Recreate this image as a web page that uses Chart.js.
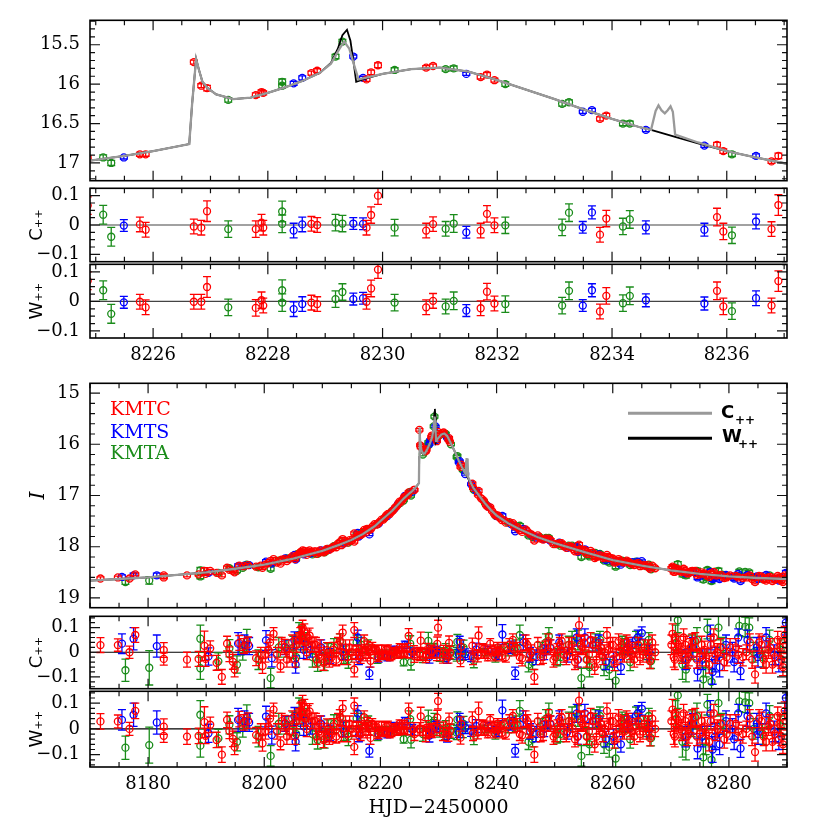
<!DOCTYPE html>
<html><head><meta charset="utf-8">
<script src="https://cdn.jsdelivr.net/npm/chart.js@4.4.0/dist/chart.umd.min.js"></script>
<style>
html,body{margin:0;padding:0;background:#fff;width:830px;height:830px;overflow:hidden;position:relative}
.p{position:absolute;left:0}
</style></head><body>
<script>
// ---------------- DATA ----------------
// model curves (HJD-2450000, I mag)
const modelDays = [8170,8175,8180,8185,8190,8195,8200,8205,8210,8213,8215,8217,8219,8220,8221,8222,8223,8224,8224.9,8225.5,8226.0,8226.63,8226.68,8226.75,8226.8,8226.86,8226.95,8227.1,8227.4,8227.7,8228.0,8228.3,8228.6,8228.9,8229.1,8229.25,8229.33,8229.42,8229.5,8229.58,8229.7,8230.0,8230.5,8231.0,8231.5,8232.0,8232.5,8233.0,8233.5,8234.0,8234.5,8234.68,8234.76,8234.81,8234.86,8234.92,8234.97,8235.02,8235.06,8235.1,8235.5,8236.0,8236.5,8237.05,8238,8239,8240,8242,8244,8247,8250,8255,8260,8265,8270,8275,8280,8285,8290];
const modelC    = [18.66,18.63,18.60,18.55,18.50,18.43,18.35,18.23,18.08,17.96,17.87,17.75,17.60,17.50,17.40,17.30,17.18,17.06,16.97,16.91,16.85,16.76,16.25,15.68,15.82,15.97,16.05,16.13,16.19,16.17,16.11,16.04,15.96,15.86,15.74,15.55,15.46,15.55,15.75,15.94,15.92,15.87,15.81,15.79,15.84,15.95,16.07,16.19,16.32,16.44,16.55,16.58,16.34,16.27,16.33,16.37,16.33,16.28,16.35,16.64,16.74,16.85,16.93,17.01,17.15,17.28,17.39,17.54,17.66,17.81,17.93,18.10,18.26,18.37,18.46,18.53,18.58,18.61,18.63];
const wDays = [8170,8175,8180,8185,8190,8195,8200,8205,8210,8213,8215,8217,8219,8220,8221,8222,8223,8224,8224.9,8225.5,8226.0,8226.63,8226.68,8226.75,8226.8,8226.86,8226.95,8227.1,8227.4,8227.7,8228.0,8228.3,8228.6,8228.9,8229.1,8229.22,8229.3,8229.38,8229.44,8229.5,8229.54,8229.7,8230.0,8230.5,8231.0,8231.5,8232.0,8232.5,8233.0,8233.5,8234.0,8234.5,8234.68,8235.1,8235.5,8236.0,8236.5,8237.05,8238,8239,8240,8242,8244,8247,8250,8255,8260,8265,8270,8275,8280,8285,8290];
const wMags = [18.66,18.63,18.60,18.55,18.50,18.43,18.35,18.23,18.08,17.96,17.87,17.75,17.60,17.50,17.40,17.30,17.18,17.06,16.97,16.91,16.85,16.76,16.25,15.68,15.82,15.97,16.05,16.13,16.19,16.17,16.11,16.04,15.96,15.86,15.73,15.55,15.38,15.31,15.45,15.75,15.97,15.93,15.87,15.81,15.79,15.84,15.95,16.07,16.19,16.32,16.44,16.55,16.58,16.67,16.75,16.85,16.93,17.01,17.15,17.28,17.39,17.54,17.66,17.81,17.93,18.10,18.26,18.37,18.46,18.53,18.58,18.61,18.63];

// zoomed window points: [day, I, residual C++, residual W++, error]
const kmtcTop = [[8224.86,16.94,0.066,0.070,0.03],[8225.77,16.89,0.002,-0.001,0.025],[8225.87,16.89,-0.016,-0.020,0.025],[8226.71,15.72,-0.005,-0.001,0.025],[8226.84,16.02,-0.009,-0.001,0.025],[8226.94,16.05,0.047,0.049,0.035],[8227.79,16.14,-0.014,-0.022,0.028],[8227.89,16.10,0.008,0.004,0.028],[8227.92,16.11,-0.009,-0.014,0.025],[8228.76,15.86,0.004,-0.004,0.025],[8228.86,15.83,0.000,-0.009,0.025],[8229.72,15.94,-0.009,-0.001,0.025],[8229.80,15.85,0.034,0.044,0.028],[8229.92,15.76,0.100,0.108,0.03],[8230.76,15.79,-0.019,-0.020,0.025],[8230.88,15.77,0.003,0.002,0.025],[8231.71,15.91,-0.019,-0.023,0.025],[8231.82,15.88,0.038,0.033,0.028],[8231.95,15.95,-0.001,-0.007,0.025],[8233.79,16.44,-0.033,-0.034,0.025],[8233.90,16.40,0.022,0.019,0.028],[8235.83,16.77,0.027,0.036,0.03],[8235.94,16.85,-0.022,-0.017,0.028],[8236.78,16.98,-0.014,-0.014,0.025],[8236.90,16.91,0.068,0.069,0.035]];
const kmtsTop = [[8225.49,16.93,-0.002,-0.003,0.02],[8228.45,15.99,-0.019,-0.026,0.025],[8228.60,15.92,0.002,-0.009,0.025],[8229.49,15.65,0.005,0.008,0.02],[8229.66,15.92,0.004,0.011,0.02],[8231.46,15.87,-0.025,-0.031,0.02],[8233.49,16.35,-0.008,-0.014,0.02],[8233.65,16.33,0.043,0.038,0.022],[8234.59,16.58,-0.008,0.004,0.022],[8235.61,16.78,-0.016,-0.007,0.022],[8236.51,16.91,0.012,0.011,0.025]];
const kmtaTop = [[8225.13,16.93,0.035,0.038,0.032],[8225.27,17.00,-0.040,-0.042,0.032],[8227.31,16.20,-0.014,-0.020,0.028],[8228.25,15.97,0.046,0.038,0.035],[8228.25,16.02,0.004,-0.004,0.03],[8229.18,15.65,0.008,0.008,0.028],[8229.30,15.46,0.005,0.032,0.028],[8230.21,15.82,-0.009,-0.004,0.028],[8231.10,15.81,-0.013,-0.017,0.025],[8231.24,15.80,0.005,0.002,0.03],[8232.14,16.00,-0.001,-0.009,0.028],[8233.13,16.25,-0.008,-0.014,0.028],[8233.25,16.23,0.042,0.036,0.03],[8234.19,16.50,-0.005,-0.006,0.028],[8234.31,16.50,0.019,0.019,0.03],[8236.09,16.89,-0.035,-0.033,0.028]];

// remaining season points: [day, I, residual, error]
const kmtcRest = [[8171.8,18.62,0.029,0.03],[8174.8,18.60,0.029,0.025],[8176.8,18.62,0.0,0.025],[8177.8,18.54,0.07,0.03],[8182.7,18.56,0.009,0.03],[8182.7,18.60,-0.027,0.025],[8186.7,18.56,-0.03,0.03],[8188.7,18.54,-0.027,0.03],[8189.7,18.47,0.026,0.06],[8189.9,18.53,-0.027,0.03],[8190.7,18.47,0.016,0.03],[8191.8,18.51,-0.043,0.03],[8192.7,18.56,-0.1,0.03],[8193.6,18.41,0.035,0.03],[8194.0,18.45,-0.008,0.03],[8194.6,18.47,-0.039,0.03],[8194.9,18.50,-0.07,0.03],[8195.7,18.37,0.038,0.03],[8196.5,18.38,0.025,0.03],[8197.2,18.36,0.032,0.03],[8198.6,18.39,-0.024,0.03],[8199.4,18.37,-0.01,0.03],[8199.7,18.41,-0.056,0.03],[8200.2,18.35,-0.01,0.03],[8200.7,18.32,0.01,0.03],[8201.0,18.28,0.04,0.03],[8201.6,18.24,0.075,0.025],[8202.2,18.31,-0.01,0.03],[8202.8,18.33,-0.056,0.025],[8203.0,18.25,0.03,0.03],[8203.5,18.24,0.022,0.03],[8203.9,18.28,-0.03,0.03],[8204.3,18.24,-0.01,0.03],[8204.8,18.19,0.04,0.03],[8205.3,18.24,-0.03,0.03],[8205.6,18.17,0.03,0.03],[8206.0,18.15,0.05,0.03],[8206.2,18.11,0.07,0.03],[8206.4,18.11,0.07,0.035],[8206.6,18.07,0.1,0.03],[8206.9,18.08,0.085,0.03],[8207.0,18.12,0.04,0.03],[8207.3,18.16,0.0,0.03],[8207.5,18.09,0.06,0.03],[8207.8,18.07,0.068,0.03],[8208.2,18.10,0.03,0.03],[8208.6,18.09,0.032,0.03],[8208.9,18.09,0.03,0.03],[8209.0,18.14,-0.03,0.03],[8209.4,18.12,-0.01,0.03],[8209.6,18.07,0.02,0.03],[8210.2,18.11,-0.043,0.03],[8210.5,18.09,-0.02,0.03],[8210.8,18.04,0.009,0.03],[8211.2,18.06,-0.03,0.03],[8211.6,18.03,-0.02,0.03],[8211.9,18.00,0.01,0.03],[8212.4,18.01,-0.03,0.025],[8212.7,17.94,0.03,0.03],[8213.0,17.91,0.045,0.03],[8213.3,17.97,-0.02,0.03],[8213.5,17.85,0.08,0.03],[8214.0,17.90,0.02,0.03],[8214.3,17.92,-0.02,0.03],[8214.7,17.87,0.02,0.03],[8215.1,17.87,0.0,0.03],[8215.5,17.74,0.09,0.03],[8215.5,17.90,-0.07,0.03],[8215.9,17.81,0.0,0.025],[8216.2,17.78,0.0,0.03],[8216.6,17.77,-0.02,0.025],[8216.9,17.75,0.0,0.025],[8217.2,17.67,0.045,0.025],[8217.5,17.72,-0.01,0.025],[8217.7,17.65,0.02,0.025],[8218.0,17.67,0.0,0.025],[8218.3,17.66,-0.035,0.025],[8218.6,17.61,0.02,0.02],[8219.0,17.56,0.01,0.02],[8219.3,17.57,0.01,0.018],[8219.6,17.55,-0.02,0.018],[8219.8,17.52,-0.01,0.02],[8220.2,17.47,0.015,0.015],[8220.5,17.47,-0.015,0.015],[8220.8,17.43,-0.01,0.015],[8221.0,17.39,0.01,0.015],[8221.3,17.36,0.015,0.015],[8221.6,17.36,-0.02,0.015],[8221.9,17.32,-0.015,0.015],[8222.2,17.29,0.005,0.015],[8222.5,17.24,0.0,0.015],[8222.8,17.21,-0.01,0.015],[8223.1,17.16,0.01,0.012],[8223.3,17.12,0.02,0.015],[8223.6,17.12,-0.01,0.012],[8223.9,17.07,-0.005,0.012],[8224.1,17.03,0.02,0.012],[8224.4,17.01,0.012,0.012],[8224.7,16.99,-0.01,0.012],
[8237.3,17.05,-0.01,0.015],[8237.5,17.07,0.02,0.015],[8237.8,17.10,0.015,0.015],[8238.2,17.19,-0.01,0.015],[8238.5,17.22,-0.02,0.015],[8238.9,17.23,0.035,0.02],[8239.2,17.30,0.01,0.02],[8239.6,17.36,-0.015,0.02],[8239.9,17.39,0.005,0.02],[8240.2,17.39,0.02,0.02],[8240.5,17.43,0.005,0.02],[8240.9,17.48,-0.015,0.02],[8241.3,17.48,0.02,0.02],[8241.6,17.53,-0.02,0.02],[8242.2,17.52,0.03,0.025],[8242.8,17.54,0.05,0.025],[8243.0,17.60,0.01,0.025],[8243.6,17.62,0.015,0.025],[8244.0,17.68,-0.02,0.025],[8244.4,17.71,-0.025,0.03],[8245.0,17.66,0.04,0.03],[8245.3,17.70,0.03,0.025],[8245.7,17.75,-0.01,0.025],[8246.0,17.76,0.0,0.03],[8246.5,17.88,-0.1,0.03],[8247.1,17.78,0.03,0.03],[8247.6,17.84,-0.02,0.03],[8248.0,17.86,-0.02,0.025],[8248.4,17.84,0.02,0.025],[8248.9,17.84,0.045,0.03],[8249.3,17.87,0.02,0.03],[8249.8,17.95,-0.03,0.03],[8250.1,17.95,-0.02,0.03],[8250.5,17.94,0.01,0.025],[8250.9,17.93,0.03,0.03],[8251.2,17.93,0.045,0.03],[8251.6,17.99,-0.01,0.03],[8252.0,18.02,-0.02,0.03],[8252.5,17.99,0.03,0.03],[8252.9,18.00,0.03,0.03],[8253.1,18.04,0.0,0.03],[8253.5,18.09,-0.04,0.03],[8253.9,18.09,-0.03,0.03],[8254.2,17.96,0.11,0.04],[8254.5,18.05,0.03,0.035],[8254.8,18.07,0.02,0.03],[8255.1,18.06,0.04,0.03],[8255.5,18.14,-0.03,0.03],[8255.9,18.14,-0.01,0.03],[8256.2,18.08,0.05,0.03],[8256.6,18.12,0.03,0.03],[8256.9,18.22,-0.06,0.03],[8257.2,18.20,-0.03,0.03],[8257.6,18.17,0.01,0.03],[8257.9,18.17,0.02,0.03],[8258.3,18.22,-0.02,0.03],[8258.6,18.21,0.0,0.03],[8259.0,18.16,0.07,0.03],[8259.3,18.22,0.01,0.03],[8259.6,18.22,0.03,0.03],[8260.0,18.23,0.03,0.03],[8260.3,18.31,-0.045,0.03],[8260.6,18.30,-0.02,0.03],[8261.0,18.24,0.045,0.03],[8261.3,18.27,0.02,0.03],[8261.7,18.30,-0.01,0.03],[8262.0,18.31,-0.01,0.03],[8262.4,18.27,0.04,0.03],[8262.7,18.29,0.03,0.03],[8263.0,18.32,0.0,0.03],[8263.3,18.34,-0.01,0.03],[8263.7,18.36,-0.03,0.03],[8264.0,18.33,0.01,0.03],[8264.4,18.32,0.03,0.03],[8264.7,18.38,-0.02,0.03],[8265.2,18.37,-0.01,0.03],[8265.5,18.36,0.02,0.03],[8266.0,18.36,0.02,0.03],[8266.2,18.40,-0.01,0.03],[8266.4,18.43,-0.036,0.03],[8266.8,18.37,0.04,0.03],[8267.3,18.42,0.0,0.03],
[8270.1,18.43,0.03,0.04],[8270.3,18.39,0.075,0.04],[8270.5,18.49,-0.02,0.04],[8270.7,18.49,-0.03,0.04],[8271.0,18.43,0.04,0.035],[8271.3,18.44,0.03,0.035],[8271.6,18.48,0.0,0.035],[8271.9,18.49,-0.01,0.035],[8272.2,18.43,0.06,0.035],[8272.5,18.47,0.03,0.035],[8272.8,18.52,-0.03,0.035],[8273.1,18.52,-0.02,0.035],[8273.4,18.48,0.02,0.035],[8273.7,18.47,0.04,0.035],[8274.2,18.47,0.045,0.035],[8274.5,18.55,-0.03,0.035],[8275.0,18.54,-0.02,0.035],[8275.3,18.50,0.03,0.035],[8275.8,18.52,0.01,0.035],[8276.1,18.56,-0.02,0.035],[8276.6,18.59,-0.05,0.035],[8276.9,18.52,0.03,0.035],[8277.4,18.49,0.06,0.035],[8277.7,18.56,-0.01,0.035],[8278.0,18.56,0.0,0.035],[8278.6,18.55,0.02,0.035],[8279.2,18.61,-0.04,0.035],[8279.6,18.60,-0.02,0.035],[8280.2,18.56,0.02,0.035],[8281.2,18.57,0.02,0.035],[8281.6,18.60,-0.01,0.035],[8282.4,18.61,-0.02,0.035],[8283.0,18.60,0.0,0.03],[8283.6,18.56,0.04,0.035],[8284.0,18.63,-0.03,0.035],[8284.5,18.69,-0.09,0.035],[8285.2,18.57,0.04,0.035],[8285.6,18.58,0.03,0.035],[8286.0,18.64,-0.03,0.035],[8286.4,18.66,-0.05,0.035],[8286.8,18.60,0.01,0.035],[8287.1,18.59,0.02,0.035],[8287.5,18.67,-0.05,0.035],[8287.9,18.64,-0.02,0.035],[8288.4,18.57,0.05,0.035],[8288.7,18.60,0.02,0.035],[8289.0,18.66,-0.03,0.035],[8289.3,18.69,-0.06,0.035],[8289.6,18.56,0.07,0.035],[8289.9,18.60,0.03,0.035]];
const kmtsRest = [[8175.5,18.59,0.035,0.04],[8177.5,18.56,0.055,0.045],[8181.5,18.56,0.025,0.045],[8190.4,18.51,-0.017,0.035],[8195.5,18.38,0.035,0.045],[8196.6,18.37,0.03,0.04],[8197.4,18.36,0.025,0.035],[8200.3,18.29,0.048,0.04],[8201.3,18.33,-0.024,0.035],[8203.6,18.23,0.02,0.03],[8205.2,18.16,0.048,0.035],[8205.4,18.25,-0.05,0.035],[8206.8,18.15,0.01,0.035],[8208.0,18.13,0.01,0.03],[8209.8,18.07,0.02,0.03],[8211.3,18.04,-0.015,0.03],[8213.6,17.94,0.0,0.03],[8216.1,17.73,0.06,0.03],[8216.3,17.80,-0.025,0.025],[8218.1,17.76,-0.085,0.025],[8219.7,17.55,-0.02,0.02],[8221.2,17.40,-0.02,0.015],[8222.4,17.26,0.01,0.015],[8223.0,17.17,0.01,0.012],[8224.2,17.01,0.03,0.015],[8238.5,17.21,0.01,0.015],[8240.0,17.40,-0.01,0.02],[8241.0,17.40,0.072,0.04],[8242.5,17.56,0.02,0.025],[8243.2,17.70,-0.085,0.025],[8244.6,17.65,0.04,0.03],[8245.8,17.76,-0.01,0.03],[8246.8,17.82,-0.02,0.03],[8248.2,17.85,0.0,0.03],[8249.2,17.88,0.02,0.03],[8250.8,17.92,0.04,0.03],[8252.2,18.02,-0.01,0.03],[8253.8,18.00,0.06,0.035],[8254.0,18.10,-0.03,0.03],[8255.2,18.05,0.06,0.035],[8256.5,18.12,0.03,0.03],[8257.6,18.15,0.04,0.03],[8258.8,18.26,-0.04,0.03],[8260.1,18.29,-0.03,0.03],[8261.4,18.35,-0.06,0.03],[8262.6,18.30,0.02,0.03],[8263.4,18.30,0.03,0.03],[8264.3,18.29,0.06,0.03],[8265.0,18.28,0.078,0.025],[8266.3,18.40,0.0,0.03],[8272.5,18.52,-0.03,0.04],[8273.8,18.49,0.02,0.04],[8274.6,18.60,-0.076,0.04],[8275.4,18.56,-0.03,0.04],[8276.8,18.49,0.06,0.05],[8277.2,18.63,-0.08,0.05],[8277.6,18.59,-0.03,0.05],[8278.4,18.63,-0.06,0.04],[8279.5,18.55,0.03,0.04],[8280.6,18.58,0.0,0.04],[8280.9,18.62,-0.04,0.04],[8281.6,18.53,0.06,0.035],[8282.0,18.67,-0.076,0.035],[8283.2,18.55,0.05,0.04],[8284.8,18.58,0.02,0.04],[8285.0,18.63,-0.02,0.04],[8286.4,18.55,0.06,0.04],[8287.8,18.63,-0.01,0.04],[8288.6,18.66,-0.04,0.04],[8289.8,18.51,0.12,0.05]];
const kmtaRest = [[8176.1,18.69,-0.073,0.045],[8180.2,18.66,-0.063,0.07],[8189.0,18.46,0.055,0.055],[8189.0,18.58,-0.065,0.045],[8192.1,18.51,-0.037,0.035],[8194.0,18.42,0.016,0.035],[8195.3,18.47,-0.05,0.035],[8196.3,18.41,0.003,0.035],[8197.0,18.35,0.048,0.045],[8199.0,18.40,-0.03,0.04],[8201.1,18.43,-0.105,0.04],[8202.5,18.27,0.02,0.04],[8203.9,18.23,0.015,0.035],[8205.0,18.21,0.02,0.045],[8205.5,18.22,-0.02,0.04],[8206.0,18.13,0.07,0.05],[8206.5,18.11,0.06,0.05],[8207.2,18.12,0.04,0.04],[8208.3,18.15,-0.02,0.04],[8209.2,18.14,-0.043,0.035],[8210.4,18.11,-0.04,0.035],[8211.0,18.04,0.0,0.035],[8212.0,17.99,0.02,0.035],[8213.1,17.91,0.045,0.03],[8213.7,17.93,-0.01,0.035],[8214.5,17.92,-0.03,0.035],[8215.9,17.76,0.04,0.03],[8216.7,17.73,0.03,0.03],[8217.9,17.67,0.02,0.03],[8219.5,17.56,-0.02,0.025],[8220.7,17.44,-0.01,0.02],[8222.0,17.30,-0.005,0.015],[8223.4,17.15,-0.01,0.015],[8224.0,17.10,-0.04,0.015],[8238.0,17.15,0.0,0.015],[8239.8,17.39,-0.02,0.02],[8240.6,17.43,0.01,0.02],[8242.0,17.53,0.01,0.025],[8243.3,17.60,0.02,0.03],[8244.0,17.59,0.07,0.04],[8245.5,17.78,-0.05,0.03],[8246.2,17.81,-0.04,0.03],[8247.5,17.82,0.01,0.03],[8248.5,17.83,0.04,0.035],[8249.0,17.83,0.065,0.035],[8250.4,17.95,-0.02,0.035],[8251.0,17.98,-0.02,0.03],[8252.4,17.98,0.03,0.035],[8253.0,17.98,0.05,0.035],[8254.0,18.02,0.05,0.04],[8254.6,18.20,-0.105,0.04],[8255.6,18.15,-0.03,0.035],[8256.0,18.19,-0.06,0.04],[8257.0,18.12,0.04,0.035],[8257.8,18.14,0.05,0.035],[8258.5,18.27,-0.06,0.035],[8259.4,18.31,-0.07,0.04],[8260.5,18.39,-0.115,0.04],[8261.6,18.27,0.03,0.035],[8262.0,18.28,0.02,0.035],[8263.0,18.36,-0.04,0.035],[8264.0,18.29,0.05,0.035],[8264.7,18.32,0.04,0.035],[8265.8,18.38,0.0,0.03],[8266.2,18.35,0.05,0.03],[8266.6,18.44,-0.036,0.03],[8270.8,18.41,0.06,0.05],[8271.2,18.34,0.13,0.05],[8272.0,18.53,-0.05,0.06],[8272.6,18.56,-0.07,0.05],[8273.6,18.48,0.02,0.05],[8274.5,18.47,0.05,0.05],[8275.6,18.64,-0.11,0.05],[8276.0,18.59,-0.05,0.05],[8276.3,18.45,0.094,0.04],[8277.0,18.67,-0.12,0.05],[8278.2,18.47,0.1,0.05],[8279.0,18.55,0.02,0.04],[8281.8,18.48,0.107,0.04],[8282.8,18.49,0.103,0.04],[8283.5,18.50,0.1,0.04],[8284.3,18.60,0.0,0.04],[8285.8,18.63,-0.02,0.04],[8287.0,18.56,0.05,0.04],[8288.9,18.61,0.01,0.04]];

const topTicksX = [2, 0.5];        // major, minor
const botTicksX = [20, 5];
const legendNames = ['KMTC','KMTS','KMTA'];
const modelNames = ['C','W'];

// ---------------- STYLE ----------------
const RED='#ff0000', BLUE='#0000ff', GREEN='#1a8c1a', GRAY='#999999', BLACK='#000000';
const TICKFONT = {family:'DejaVu Serif', size:18};
const PAD = 4;

function tickValues(min,max,step){
  const lo=Math.min(min,max), hi=Math.max(min,max), out=[];
  for(let k=Math.ceil(lo/step-1e-9); k<=Math.floor(hi/step+1e-9); k++) out.push(Math.round(k*step*1e6)/1e6);
  return out;
}

const framePlugin = {
  id:'frame',
  beforeDatasetsDraw(chart, args, o){
    if(!o.zero) return;
    const {ctx, chartArea:a, scales:{y}} = chart;
    const py = y.getPixelForValue(0);
    ctx.save(); ctx.strokeStyle=o.zeroColor||'#000'; ctx.lineWidth=1.2;
    ctx.beginPath(); ctx.moveTo(a.left,py); ctx.lineTo(a.right,py); ctx.stroke(); ctx.restore();
  },
  afterDatasetsDraw(chart, args, o){
    const {ctx, chartArea:a, scales:{x,y}} = chart;
    const isMaj=(v,m)=>Math.abs(v/m-Math.round(v/m))<1e-6;
    ctx.save(); ctx.strokeStyle='#111'; ctx.lineWidth=1.2; ctx.beginPath();
    tickValues(x.min,x.max,o.xMinor).forEach(v=>{const L=isMaj(v,o.xMajor)?10:5; const px=x.getPixelForValue(v);
      ctx.moveTo(px,a.bottom); ctx.lineTo(px,a.bottom-L); ctx.moveTo(px,a.top); ctx.lineTo(px,a.top+L);});
    tickValues(y.min,y.max,o.yMinor).forEach(v=>{const L=isMaj(v,o.yMajor)?10:5; const py=y.getPixelForValue(v);
      ctx.moveTo(a.left,py); ctx.lineTo(a.left+L,py); ctx.moveTo(a.right,py); ctx.lineTo(a.right-L,py);});
    ctx.stroke();
    ctx.lineWidth=1.6; ctx.strokeStyle='#000'; ctx.strokeRect(a.left,a.top,a.right-a.left,a.bottom-a.top);
    ctx.restore();
  }
};
const errPlugin = {
  id:'errbars',
  beforeDatasetDraw(chart, args){
    const ds = chart.data.datasets[args.index];
    if(!ds.errs) return;
    const {ctx, chartArea:a, scales:{x,y}} = chart;
    ctx.save(); ctx.beginPath(); ctx.rect(a.left,a.top,a.right-a.left,a.bottom-a.top); ctx.clip();
    ctx.strokeStyle=ds.borderColor; ctx.lineWidth=1.3; ctx.beginPath();
    ds.data.forEach((p,i)=>{const e=ds.errs[i]; const px=x.getPixelForValue(p.x);
      const y1=y.getPixelForValue(p.y-e), y2=y.getPixelForValue(p.y+e);
      ctx.moveTo(px,y1); ctx.lineTo(px,y2); ctx.moveTo(px-4,y1); ctx.lineTo(px+4,y1); ctx.moveTo(px-4,y2); ctx.lineTo(px+4,y2);});
    ctx.stroke(); ctx.restore();
  }
};

function ptsDS(list,key,color){
  return {data:list.map(p=>({x:p.d,y:p[key]})), errs:list.map(p=>p.e), borderColor:color, pointBorderColor:color,
    backgroundColor:'rgba(0,0,0,0)', pointBackgroundColor:'rgba(0,0,0,0)', pointRadius:3.5, pointBorderWidth:1.3, showLine:false, clip:0};
}
function lineDS(days,mags,color,w){
  return {data:days.map((d,i)=>({x:d,y:mags[i]})), showLine:true, borderColor:color, borderWidth:w, pointRadius:0, fill:false, tension:0, clip:0};
}
const fromTop = arr => arr.map(r=>({d:r[0],m:r[1],c:r[2],w:r[3],e:r[4]}));
const fromRest = arr => arr.map(r=>({d:r[0],m:r[1],c:r[2],w:r[2],e:r[3]}));
const fmtRes = v => Math.abs(v)<1e-9 ? '0' : (v<0?'\u2212':'')+Math.abs(v).toFixed(1);

function panel(o){
  const xh=o.xAxisH||0, H=o.areaH+2*PAD+xh;
  const div=document.createElement('div'); div.className='p';
  div.style.top=(o.areaTop-PAD)+'px'; div.style.width='830px'; div.style.height=H+'px';
  const cv=document.createElement('canvas'); cv.width=830; cv.height=H; cv.style.width='830px'; cv.style.height=H+'px';
  div.appendChild(cv); document.body.appendChild(div);
  new Chart(cv.getContext('2d'),{
    type:'scatter',
    data:{datasets:o.datasets},
    options:{
      responsive:false, animation:false, devicePixelRatio:1, events:[],
      layout:{padding:{top:PAD,bottom:PAD,left:0,right:43}},
      plugins:{legend:{display:false}, tooltip:{enabled:false},
        frame:{xMajor:o.xt[0], xMinor:o.xt[1], yMajor:o.yt[0], yMinor:o.yt[1], zero:!!o.zero, zeroColor:o.zeroColor}},
      scales:{
        x:{type:'linear', min:o.xmin, max:o.xmax, display:!!xh, position:'bottom',
           grid:{display:false, drawTicks:false}, border:{display:false},
           afterBuildTicks:s=>{s.ticks=tickValues(o.xmin,o.xmax,o.xt[0]).map(v=>({value:v}));},
           ticks:{autoSkip:false, maxRotation:0, minRotation:0, font:TICKFONT, color:'#000', padding:7, callback:v=>String(Math.round(v))},
           title:{display:!!o.xTitle, text:o.xTitle||'', font:{family:'DejaVu Serif', size:19}, color:'#000', padding:{top:0,bottom:3}},
           afterFit:s=>{s.height=xh; s.paddingLeft=0; s.paddingRight=0;}},
        y:{type:'linear', min:o.ymin, max:o.ymax, reverse:!!o.reverse,
           grid:{display:false, drawTicks:false}, border:{display:false},
           afterBuildTicks:s=>{s.ticks=tickValues(o.ymin,o.ymax,o.yt[0]).map(v=>({value:v}));},
           ticks:{autoSkip:false, font:TICKFONT, color:'#000', padding:10, callback:o.yfmt},
           title:{display:!!o.yTitle, text:o.yTitle||'', font:o.yTitleFont||{family:'DejaVu Sans', size:18}, color:'#000', padding:{top:27,bottom:0}},
           afterFit:s=>{s.width=90; s.paddingTop=0; s.paddingBottom=0;}}
      }
    },
    plugins:[framePlugin, errPlugin].concat(o.extra||[])
  });
}

// ---------------- BUILD ----------------
const cTop=fromTop(kmtcTop), sTop=fromTop(kmtsTop), aTop=fromTop(kmtaTop);
const cAll=cTop.concat(fromRest(kmtcRest)), sAll=sTop.concat(fromRest(kmtsRest)), aAll=aTop.concat(fromRest(kmtaRest));
const magFmt = v => String(Math.round(v*10)/10);

// upper block (zoom on anomaly)
panel({areaTop:19, areaH:163, xmin:8224.9, xmax:8237.05, ymin:15.19, ymax:17.225, reverse:true,
  xt:topTicksX, yt:[0.5,0.1], yfmt:magFmt,
  datasets:[lineDS(modelDays,modelC,GRAY,2.3), lineDS(wDays,wMags,BLACK,1.8), ptsDS(cTop,'m',RED), ptsDS(sTop,'m',BLUE), ptsDS(aTop,'m',GREEN)]});
panel({areaTop:187, areaH:76, xmin:8224.9, xmax:8237.05, ymin:-0.125, ymax:0.125,
  xt:topTicksX, yt:[0.1,0.025], yfmt:fmtRes, zero:true, zeroColor:'#444', yTitle:'C\u208A\u208A',
  datasets:[ptsDS(cTop,'c',RED), ptsDS(sTop,'c',BLUE), ptsDS(aTop,'c',GREEN)]});
panel({areaTop:263, areaH:75, xAxisH:32, xmin:8224.9, xmax:8237.05, ymin:-0.124, ymax:0.126,
  xt:topTicksX, yt:[0.1,0.025], yfmt:fmtRes, zero:true, zeroColor:'#444', yTitle:'W\u208A\u208A',
  datasets:[ptsDS(cTop,'w',RED), ptsDS(sTop,'w',BLUE), ptsDS(aTop,'w',GREEN)]});

// lower block (whole season)
const legendPlugin = {
  id:'kmtLegend',
  afterDraw(chart){
    const ctx=chart.ctx, a=chart.chartArea, oy=a.top-382; // page -> canvas
    ctx.save();
    ctx.textBaseline='middle'; ctx.textAlign='left';
    ctx.font='19px "DejaVu Serif"';
    [[legendNames[0],RED,409],[legendNames[1],BLUE,431.5],[legendNames[2],GREEN,452.5]].forEach(([t,c,y])=>{ctx.fillStyle=c; ctx.fillText(t,110,y+oy);});
    ctx.lineWidth=3;
    ctx.strokeStyle=GRAY; ctx.beginPath(); ctx.moveTo(628,412+oy); ctx.lineTo(712,412+oy); ctx.stroke();
    ctx.strokeStyle=BLACK; ctx.beginPath(); ctx.moveTo(628,437+oy); ctx.lineTo(712,437+oy); ctx.stroke();
    ctx.fillStyle='#000'; ctx.textBaseline='alphabetic';
    ctx.font='bold 18px "DejaVu Sans"'; ctx.fillText(modelNames[0],721,417+oy); ctx.fillText(modelNames[1],722,441+oy);
    ctx.font='bold 12px "DejaVu Sans"'; ctx.fillText('++',735,423+oy); ctx.fillText('++',738,447+oy);
    ctx.restore();
  }
};
panel({areaTop:382, areaH:227, xmin:8170, xmax:8290, ymin:14.81, ymax:19.19, reverse:true,
  xt:botTicksX, yt:[1,0.2], yfmt:magFmt, yTitle:'I', yTitleFont:{family:'DejaVu Serif', size:20, style:'italic'},
  datasets:[lineDS(modelDays,modelC,GRAY,2.3), lineDS(wDays,wMags,BLACK,1.8), ptsDS(cAll,'m',RED), ptsDS(sAll,'m',BLUE), ptsDS(aAll,'m',GREEN)],
  extra:[legendPlugin]});
panel({areaTop:615, areaH:75, xmin:8170, xmax:8290, ymin:-0.148, ymax:0.146,
  xt:botTicksX, yt:[0.1,0.02], yfmt:fmtRes, zero:true, yTitle:'C\u208A\u208A',
  datasets:[ptsDS(cAll,'c',RED), ptsDS(sAll,'c',BLUE), ptsDS(aAll,'c',GREEN)]});
panel({areaTop:690, areaH:77, xAxisH:55, xmin:8170, xmax:8290, ymin:-0.148, ymax:0.146,
  xt:botTicksX, yt:[0.1,0.02], yfmt:fmtRes, zero:true, yTitle:'W\u208A\u208A', xTitle:'HJD\u22122450000',
  datasets:[ptsDS(cAll,'w',RED), ptsDS(sAll,'w',BLUE), ptsDS(aAll,'w',GREEN)]});
</script>
</body></html>
